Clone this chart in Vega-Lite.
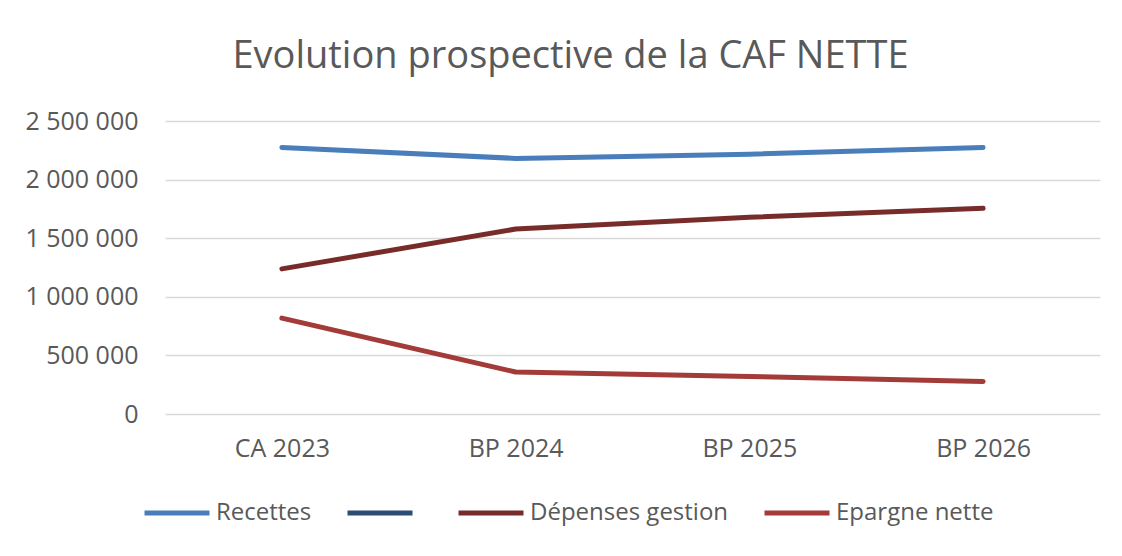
{
  "$schema": "https://vega.github.io/schema/vega-lite/v6.json",
  "width": 935,
  "height": 293,
  "autosize": "none",
  "padding": {"left": 165, "top": 121, "right": 22, "bottom": 142},
  "background": "white",
  "config": {
    "view": {"stroke": null},
    "font": "Open Sans"
  },
  "title": {
    "text": "Evolution prospective de la CAF NETTE",
    "font": "Open Sans",
    "fontSize": 38,
    "fontWeight": "normal",
    "color": "#595959",
    "anchor": "middle",
    "dx": -62,
    "offset": 33
  },
  "data": {
    "values": [
      {"periode": "CA 2023", "serie": "Recettes", "valeur": 2274000},
      {"periode": "BP 2024", "serie": "Recettes", "valeur": 2181000},
      {"periode": "BP 2025", "serie": "Recettes", "valeur": 2217000},
      {"periode": "BP 2026", "serie": "Recettes", "valeur": 2274000},
      {"periode": "CA 2023", "serie": "Dépenses gestion", "valeur": 1238000},
      {"periode": "BP 2024", "serie": "Dépenses gestion", "valeur": 1578000},
      {"periode": "BP 2025", "serie": "Dépenses gestion", "valeur": 1678000},
      {"periode": "BP 2026", "serie": "Dépenses gestion", "valeur": 1755000},
      {"periode": "CA 2023", "serie": "Epargne nette", "valeur": 818000},
      {"periode": "BP 2024", "serie": "Epargne nette", "valeur": 358000},
      {"periode": "BP 2025", "serie": "Epargne nette", "valeur": 320000},
      {"periode": "BP 2026", "serie": "Epargne nette", "valeur": 278000}
    ]
  },
  "mark": {"type": "line", "strokeWidth": 5, "strokeCap": "round", "strokeJoin": "round"},
  "encoding": {
    "x": {
      "field": "periode",
      "type": "ordinal",
      "sort": ["CA 2023", "BP 2024", "BP 2025", "BP 2026"],
      "scale": {"type": "point", "padding": 0.5},
      "axis": {
        "title": null,
        "domain": false,
        "ticks": false,
        "grid": false,
        "labelAngle": 0,
        "labelFont": "Open Sans",
        "labelFontSize": 25,
        "labelColor": "#595959",
        "labelPadding": 22
      }
    },
    "y": {
      "field": "valeur",
      "type": "quantitative",
      "scale": {"domain": [0, 2500000], "nice": false},
      "axis": {
        "title": null,
        "values": [0, 500000, 1000000, 1500000, 2000000, 2500000],
        "labelExpr": "replace(format(datum.value, ','), /,/g, ' ')",
        "domain": false,
        "ticks": false,
        "grid": true,
        "gridColor": "#D9D9D9",
        "gridWidth": 1.5,
        "labelFont": "Open Sans",
        "labelFontSize": 25,
        "labelColor": "#595959",
        "labelPadding": 27
      }
    },
    "color": {
      "field": "serie",
      "type": "nominal",
      "scale": {
        "domain": ["Recettes", "\u200b", "Dépenses gestion", "Epargne nette"],
        "range": ["#4A7EBB", "#2C4D75", "#772C2A", "#A33B39"]
      },
      "legend": {
        "title": null,
        "orient": "none",
        "direction": "horizontal",
        "legendX": -23,
        "legendY": 357,
        "symbolType": "stroke",
        "symbolSize": 4225,
        "symbolStrokeWidth": 5,
        "labelFont": "Open Sans",
        "labelFontSize": 24,
        "labelLimit": 0,
        "labelColor": "#595959",
        "labelOffset": 4,
        "columnPadding": 25
      }
    }
  }
}
